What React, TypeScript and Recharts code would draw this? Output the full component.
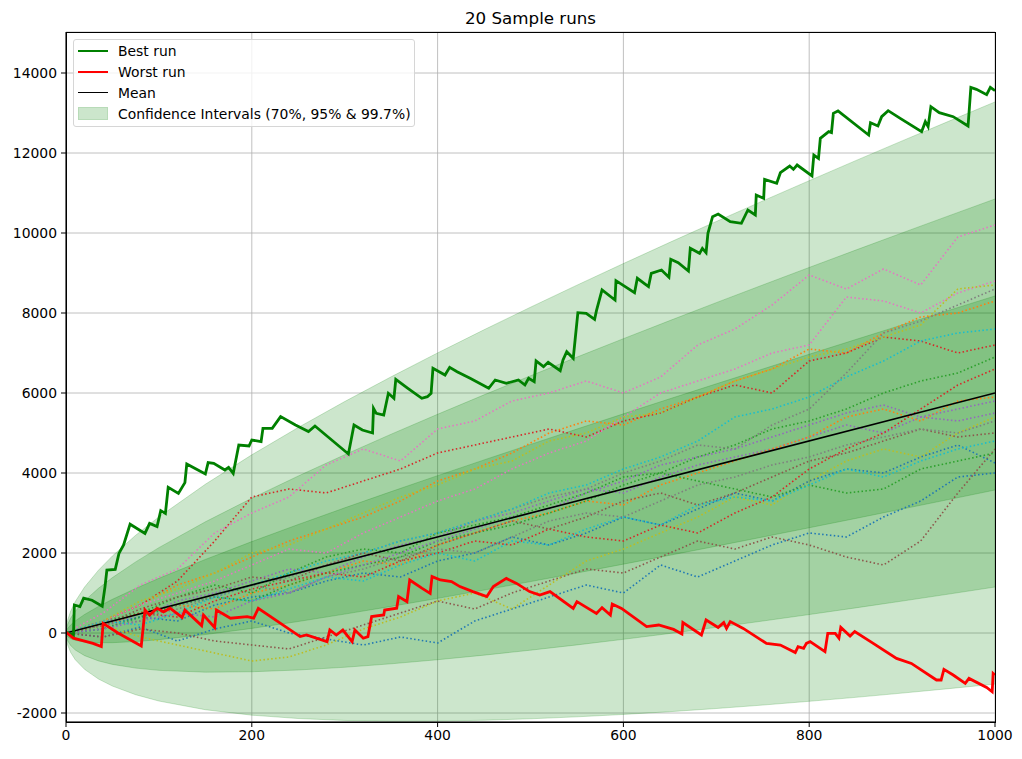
import React from 'react';
import { ComposedChart, Area, Line, XAxis, YAxis, CartesianGrid } from 'recharts';

// confidence bands (mean +/- 1, 2, 3 sigma)
const BAND_X = [0, 1, 2, 5, 10, 20, 35, 50, 75, 100, 150, 200, 250, 300, 350, 400, 450, 500, 550, 600, 650, 700, 750, 800, 850, 900, 950, 1000];
const BAND70_LO = [0, -71, -97, -142, -183, -223, -244, -242, -214, -167, -39, 115, 287, 472, 665, 866, 1073, 1285, 1501, 1721, 1944, 2171, 2400, 2631, 2864, 3099, 3336, 3574];
const BAND70_HI = [0, 83, 121, 202, 303, 463, 664, 842, 1114, 1367, 1839, 2285, 2713, 3129, 3535, 3934, 4327, 4715, 5099, 5479, 5856, 6229, 6600, 6969, 7336, 7701, 8064, 8426];
const BAND95_LO = [0, -147, -205, -313, -425, -566, -698, -785, -878, -934, -979, -969, -925, -857, -770, -668, -554, -430, -298, -158, -11, 141, 299, 461, 628, 798, 972, 1149];
const BAND95_HI = [0, 159, 229, 373, 545, 806, 1118, 1385, 1778, 2134, 2779, 3369, 3925, 4457, 4970, 5468, 5954, 6430, 6898, 7358, 7811, 8259, 8701, 9139, 9572, 10002, 10428, 10851];
const BAND997_LO = [0, -224, -314, -485, -668, -909, -1151, -1327, -1543, -1701, -1918, -2054, -2138, -2186, -2205, -2202, -2181, -2145, -2096, -2036, -1967, -1888, -1802, -1708, -1609, -1503, -1392, -1277];
const BAND997_HI = [0, 236, 338, 545, 788, 1149, 1571, 1927, 2443, 2901, 3718, 4454, 5138, 5786, 6405, 7002, 7581, 8145, 8696, 9236, 9767, 10288, 10802, 11308, 11809, 12303, 12792, 13277];

const MEAN_RUN: [number, number][] = [[0, 0], [1000, 6000]];

const BEST_RUN: [number, number][] = [
  [0, 0], [2, 0], [8, -60], [9, 700], [15, 660], [19, 870], [28, 820], [39, 670], [42, 1160], [44, 1575], [53, 1590],
  [57, 1990], [62, 2200], [69, 2720], [85, 2490], [90, 2740], [98, 2660], [102, 3060], [107, 2990], [110, 3640],
  [121, 3490], [128, 3760], [130, 4225], [139, 4110], [150, 3975], [153, 4260], [159, 4240], [171, 4075], [175, 4140],
  [180, 3990], [186, 4700], [197, 4675], [200, 4825], [210, 4785], [212, 5115], [222, 5115], [231, 5410], [247, 5200],
  [261, 5035], [268, 5175], [304, 4475], [310, 5200], [319, 5075], [330, 5000], [331, 5617], [334, 5492], [342, 5450],
  [347, 5992], [353, 5867], [355, 6342], [368, 6117], [383, 5867], [389, 5908], [393, 5992], [395, 6617], [408, 6450],
  [413, 6642], [421, 6533], [435, 6367], [455, 6117], [462, 6325], [474, 6242], [487, 6325], [494, 6200], [498, 6367],
  [504, 6283], [506, 6800], [514, 6658], [519, 6767], [532, 6558], [535, 6825], [539, 7033], [546, 6867], [548, 7325],
  [551, 8008], [560, 7992], [569, 7842], [571, 8058], [577, 8575], [591, 8325], [592, 8808], [612, 8508], [615, 8867],
  [627, 8658], [630, 8992], [641, 9075], [649, 8892], [651, 9342], [659, 9258], [670, 9050], [672, 9617], [682, 9492],
  [685, 9617], [689, 9508], [691, 9992], [696, 10408], [702, 10475], [715, 10283], [727, 10242], [734, 10575],
  [742, 10450], [743, 10950], [751, 10867], [752, 11342], [765, 11242], [769, 11508], [779, 11675], [783, 11592],
  [787, 11700], [803, 11425], [805, 11950], [810, 11867], [812, 12367], [821, 12533], [824, 12508], [826, 12992],
  [831, 13050], [864, 12450], [866, 12758], [874, 12675], [878, 12908], [885, 13058], [898, 12867], [921, 12533],
  [925, 12783], [928, 12658], [931, 13158], [940, 13008], [955, 12908], [971, 12675], [974, 13642], [980, 13592],
  [991, 13458], [995, 13642], [1000, 13558],
];

const WORST_RUN: [number, number][] = [
  [0, 0], [1, 0], [8, -130], [22, -215], [29, -260], [38, -340], [40, 240], [56, 0], [81, -325], [85, 575], [90, 450],
  [98, 620], [105, 530], [112, 620], [125, 390], [128, 575], [146, 185], [148, 450], [160, 140], [162, 575], [177, 370],
  [195, 410], [202, 370], [207, 615], [252, -90], [259, -50], [281, -215], [284, 75], [291, -50], [298, 75], [308, -215],
  [311, 75], [320, -130], [325, -90], [329, 410], [342, 450], [343, 575], [356, 620], [358, 910], [367, 785], [370, 1325],
  [383, 1120], [392, 990], [394, 1410], [403, 1325], [415, 1285], [424, 1160], [438, 1035], [453, 910], [460, 1160],
  [474, 1365], [485, 1240], [499, 1035], [510, 950], [521, 1035], [546, 615], [550, 785], [571, 490], [577, 635],
  [586, 450], [588, 725], [598, 615], [625, 160], [638, 200], [654, 90], [663, -25], [664, 260], [684, -50], [689, 325],
  [702, 140], [708, 260], [711, 115], [715, 285], [729, 115], [754, -260], [769, -300], [785, -490], [788, -340],
  [794, -385], [797, -260], [801, -215], [817, -465], [820, -10], [828, -10], [832, -130], [834, 140], [844, -75],
  [849, 35], [866, -215], [894, -635], [910, -760], [937, -1175], [942, -1175], [945, -910], [955, -1050], [968, -1260],
  [972, -1135], [991, -1360], [997, -1470], [998, -1010], [1000, -1050],
];

// the other sample runs, sampled every 40 steps
const RUN_X = [0, 40, 80, 120, 160, 200, 240, 280, 320, 360, 400, 440, 480, 520, 560, 600, 640, 680, 720, 760, 800, 840, 880, 920, 960, 1000];
const BLUE_A = [0, -100, 150, -200, 100, 300, 0, -150, -300, -100, -250, 300, 600, 900, 1200, 1000, 1700, 1400, 1800, 2200, 2500, 2400, 2900, 3300, 3900, 4000];
const BLUE_B = [0, 200, 400, 300, 700, 900, 1000, 1300, 1500, 1400, 1800, 2000, 2400, 2200, 2500, 2900, 2700, 3100, 3500, 3300, 3800, 4100, 4000, 4400, 4700, 4250];
const ORANGE_A = [0, 300, 700, 1200, 1500, 1900, 2300, 2600, 2900, 3300, 3800, 4100, 4500, 5000, 5300, 5200, 5600, 5900, 6300, 6600, 7100, 7000, 7500, 7900, 8000, 8300];
const ORANGE_B = [0, 200, 500, 700, 600, 1000, 1200, 1500, 1800, 1700, 2200, 2500, 2800, 3000, 3300, 3200, 3700, 4000, 4300, 4600, 4900, 5400, 5600, 5300, 5800, 5900];
const GREEN_A = [0, 300, 500, 900, 1200, 1000, 1500, 1900, 2100, 2000, 2500, 2700, 2900, 3200, 3500, 3900, 4000, 4400, 4700, 5100, 5300, 5600, 6000, 6300, 6500, 6900];
const GREEN_B = [0, 100, 400, 700, 900, 800, 1200, 1500, 1700, 1900, 2300, 2500, 2700, 3000, 3300, 3700, 4000, 3800, 3600, 3400, 3700, 3500, 3600, 4100, 4300, 4500];
const RED_A = [0, 300, 700, 1300, 2300, 3400, 3600, 3500, 3800, 4100, 4500, 4700, 4900, 5100, 4900, 5300, 5500, 5900, 6200, 6000, 6800, 7000, 7400, 7300, 7000, 7200];
const RED_B = [0, 200, 500, 400, 800, 1100, 1300, 1500, 1400, 1800, 2000, 2300, 2200, 2600, 2400, 2300, 2700, 2500, 3000, 3400, 4100, 4600, 5000, 5600, 6200, 6600];
const PURPLE_A = [0, 300, 400, 800, 1000, 1300, 1600, 1500, 1900, 2200, 2400, 2800, 3000, 3300, 3600, 3500, 3900, 4200, 4400, 4600, 4900, 5200, 5000, 5400, 5300, 5500];
const PURPLE_B = [0, 100, 300, 500, 400, 800, 1000, 1400, 1700, 2000, 2300, 2600, 2900, 3100, 3500, 3800, 4200, 4400, 4600, 4900, 5200, 5500, 5700, 5400, 5600, 5800];
const BROWN_A = [0, -100, 100, 0, -200, -300, -400, -100, 200, 500, 800, 600, 1000, 1300, 1600, 1500, 1900, 2300, 2100, 2400, 2200, 1900, 1700, 2300, 3500, 4600];
const BROWN_B = [0, 200, 600, 900, 1100, 1400, 1300, 1700, 2000, 1800, 2200, 2500, 2800, 2600, 2900, 3300, 3500, 3200, 3500, 3900, 4300, 4500, 4800, 5100, 4900, 5000];
const PINK_A = [0, 500, 1200, 1600, 2500, 3000, 3400, 4200, 4600, 4300, 5100, 5300, 5800, 6000, 6300, 6000, 6400, 7200, 7600, 8200, 8950, 8600, 9100, 8700, 9900, 10200];
const PINK_B = [0, 300, 700, 1000, 1300, 1700, 2100, 2000, 2500, 2900, 3300, 3600, 4100, 4500, 4800, 5400, 6000, 6300, 6600, 7000, 7200, 8400, 8300, 8000, 8500, 8800];
const GRAY_A = [0, 100, 400, 600, 900, 1200, 1400, 1700, 2000, 2300, 2500, 2800, 3100, 3400, 3600, 4000, 4300, 4700, 4600, 5200, 5600, 6500, 7500, 7800, 8200, 8600];
const GRAY_B = [0, 200, 300, 700, 900, 1200, 1000, 1400, 1600, 1900, 2100, 2000, 2400, 2800, 3000, 2900, 3300, 3700, 3900, 4200, 4400, 4700, 4900, 5100, 5000, 5300];
const OLIVE_A = [0, 200, -100, -300, -500, -700, -600, -300, 100, 400, 800, 1000, 600, 1200, 1800, 2100, 2500, 2900, 3400, 3200, 3800, 4300, 4600, 4400, 5000, 5400];
const OLIVE_B = [0, 300, 800, 1100, 1500, 2000, 2200, 2600, 3000, 3400, 3700, 4100, 4300, 4800, 5000, 5400, 5500, 5900, 6300, 6600, 6900, 7100, 7400, 7700, 8600, 8700];
const CYAN_A = [0, 100, 400, 700, 900, 1200, 1500, 1800, 2000, 2300, 2500, 2800, 3100, 3500, 3700, 4100, 4400, 4800, 5400, 5600, 5900, 6400, 6800, 7300, 7500, 7600];
const CYAN_B = [0, 300, 200, 500, 900, 800, 1100, 1400, 1300, 1700, 2000, 1800, 2300, 2200, 2600, 2900, 2700, 3200, 3400, 3300, 3700, 4100, 3900, 4300, 4600, 4800];

const SAMPLE_RUNS: { name: string; color: string; values: number[] }[] = [
  { name: 'blueA', color: '#1f77b4', values: BLUE_A },
  { name: 'orangeA', color: '#ff7f0e', values: ORANGE_A },
  { name: 'greenA', color: '#2ca02c', values: GREEN_A },
  { name: 'redA', color: '#d62728', values: RED_A },
  { name: 'purpleA', color: '#9467bd', values: PURPLE_A },
  { name: 'brownA', color: '#8c564b', values: BROWN_A },
  { name: 'pinkA', color: '#e377c2', values: PINK_A },
  { name: 'grayA', color: '#7f7f7f', values: GRAY_A },
  { name: 'oliveA', color: '#bcbd22', values: OLIVE_A },
  { name: 'cyanA', color: '#17becf', values: CYAN_A },
  { name: 'blueB', color: '#1f77b4', values: BLUE_B },
  { name: 'orangeB', color: '#ff7f0e', values: ORANGE_B },
  { name: 'greenB', color: '#2ca02c', values: GREEN_B },
  { name: 'redB', color: '#d62728', values: RED_B },
  { name: 'purpleB', color: '#9467bd', values: PURPLE_B },
  { name: 'brownB', color: '#8c564b', values: BROWN_B },
  { name: 'pinkB', color: '#e377c2', values: PINK_B },
  { name: 'grayB', color: '#7f7f7f', values: GRAY_B },
  { name: 'oliveB', color: '#bcbd22', values: OLIVE_B },
  { name: 'cyanB', color: '#17becf', values: CYAN_B },
];

const X_TICKS = [0, 200, 400, 600, 800, 1000];
const Y_TICKS = [-2000, 0, 2000, 4000, 6000, 8000, 10000, 12000, 14000];

const FONT = '"DejaVu Sans", sans-serif';

const bandRows = BAND_X.map((x, i) => ({
  x,
  b997: [BAND997_LO[i], BAND997_HI[i]],
  b95: [BAND95_LO[i], BAND95_HI[i]],
  b70: [BAND70_LO[i], BAND70_HI[i]],
}));
const pairRows = (pts: [number, number][]) => pts.map(([x, y]) => ({ x, y }));

function LegendBox() {
  const row = { display: 'flex', alignItems: 'center', height: 21 } as const;
  const sample = (color: string, w: number) => (
    <div style={{ width: 30, height: 0, borderTop: `${w}px solid ${color}`, marginRight: 10 }} />
  );
  return (
    <div style={{
      position: 'absolute', left: 73, top: 39, width: 342, height: 88, boxSizing: 'border-box',
      border: '1px solid #d6d6d6', borderRadius: 3, background: 'rgba(255,255,255,0.8)',
      padding: '0 0 0 4px', fontFamily: FONT, fontSize: 13.9, color: '#000',
    }}>
      <div style={row}>{sample('#008000', 2.8)}Best run</div>
      <div style={row}>{sample('#ff0000', 2.8)}Worst run</div>
      <div style={row}>{sample('#000000', 1.6)}Mean</div>
      <div style={row}>
        <div style={{ width: 30, height: 13, boxSizing: 'border-box', background: '#cce6cc', border: '1px solid #b8dbb8', marginRight: 10 }} />
        Confidence Intervals (70%, 95% &amp; 99.7%)
      </div>
    </div>
  );
}

export default function App() {
  const tick = { fill: '#000', fontSize: 13.9, fontFamily: FONT };
  return (
    <div style={{ position: 'absolute', left: 0, top: 0, width: 1022, height: 759, background: '#fff' }}>
      <div style={{ position: 'absolute', left: 66, width: 929, top: 8, textAlign: 'center', fontFamily: FONT, fontSize: 16.7 }}>
        20 Sample runs
      </div>
      <ComposedChart width={1022} height={759} data={bandRows} margin={{ top: 32, right: 27, bottom: 7, left: 6 }}>
        <CartesianGrid stroke="#b0b0b0" strokeWidth={0.8} />
        <XAxis dataKey="x" type="number" domain={[0, 1000]} ticks={X_TICKS} allowDataOverflow height={30}
          tick={tick} tickLine={{ stroke: '#000' }} axisLine={{ stroke: '#000' }} tickSize={5} tickMargin={3} />
        <YAxis type="number" domain={[-2225, 15025]} ticks={Y_TICKS} allowDataOverflow width={60}
          tick={tick} tickLine={{ stroke: '#000' }} axisLine={{ stroke: '#000' }} tickSize={5} tickMargin={4} />
        <Area dataKey="b997" fill="#008000" fillOpacity={0.2} stroke="#008000" strokeOpacity={0.2} isAnimationActive={false} />
        <Area dataKey="b95" fill="#008000" fillOpacity={0.2} stroke="#008000" strokeOpacity={0.2} isAnimationActive={false} />
        <Area dataKey="b70" fill="#008000" fillOpacity={0.2} stroke="#008000" strokeOpacity={0.2} isAnimationActive={false} />
        {SAMPLE_RUNS.map((r) => (
          <Line key={r.name} data={RUN_X.map((x, i) => ({ x, y: r.values[i] }))} dataKey="y" stroke={r.color}
            strokeWidth={1.6} strokeDasharray="1.5 2.4" dot={false} activeDot={false} isAnimationActive={false} />
        ))}
        <Line data={pairRows(MEAN_RUN)} dataKey="y" stroke="#000" strokeWidth={1.6} dot={false} activeDot={false} isAnimationActive={false} />
        <Line data={pairRows(BEST_RUN)} dataKey="y" stroke="#008000" strokeWidth={2.8} dot={false} activeDot={false} isAnimationActive={false} />
        <Line data={pairRows(WORST_RUN)} dataKey="y" stroke="#ff0000" strokeWidth={2.8} dot={false} activeDot={false} isAnimationActive={false} />
      </ComposedChart>
      <div style={{ position: 'absolute', left: 66, top: 32, width: 930, height: 691, boxSizing: 'border-box', border: '1px solid #000', pointerEvents: 'none' }} />
      <LegendBox />
    </div>
  );
}
